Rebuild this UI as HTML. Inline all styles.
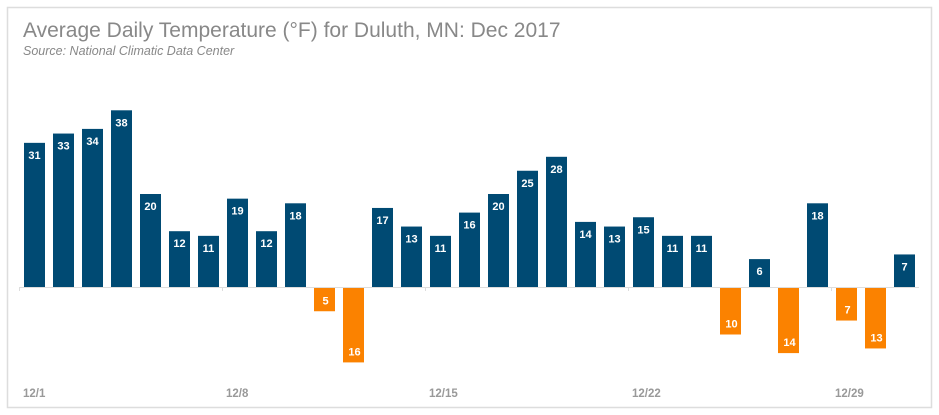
<!DOCTYPE html>
<html><head><meta charset="utf-8"><style>
body{margin:0;background:#fff;}
svg{display:block;font-family:"Liberation Sans",sans-serif;}
</style></head><body>
<svg width="939" height="415" xmlns="http://www.w3.org/2000/svg">
<rect x="7.5" y="7.5" width="924" height="400" fill="#fff" stroke="#ddd" stroke-width="1.5"/>
<text x="23" y="37" font-size="21" fill="#888">Average Daily Temperature (°F) for Duluth, MN: Dec 2017</text>
<text x="23" y="55" font-size="12.5" font-style="italic" fill="#888">Source: National Climatic Data Center</text>
<g fill="#004a73">
<rect x="24" y="142.85" width="21" height="144.15"/>
<rect x="53" y="133.55" width="21" height="153.45"/>
<rect x="82" y="128.9" width="21" height="158.1"/>
<rect x="111" y="110.3" width="21" height="176.7"/>
<rect x="140" y="194" width="21" height="93"/>
<rect x="169" y="231.2" width="21" height="55.8"/>
<rect x="198" y="235.85" width="21" height="51.15"/>
<rect x="227" y="198.65" width="21" height="88.35"/>
<rect x="256" y="231.2" width="21" height="55.8"/>
<rect x="285" y="203.3" width="21" height="83.7"/>
<rect x="372" y="207.95" width="21" height="79.05"/>
<rect x="401" y="226.55" width="21" height="60.45"/>
<rect x="430" y="235.85" width="21" height="51.15"/>
<rect x="459" y="212.6" width="21" height="74.4"/>
<rect x="488" y="194" width="21" height="93"/>
<rect x="517" y="170.75" width="21" height="116.25"/>
<rect x="546" y="156.8" width="21" height="130.2"/>
<rect x="575" y="221.9" width="21" height="65.1"/>
<rect x="604" y="226.55" width="21" height="60.45"/>
<rect x="633" y="217.25" width="21" height="69.75"/>
<rect x="662" y="235.85" width="21" height="51.15"/>
<rect x="691" y="235.85" width="21" height="51.15"/>
<rect x="749" y="259.1" width="21" height="27.9"/>
<rect x="807" y="203.3" width="21" height="83.7"/>
<rect x="894" y="254.45" width="21" height="32.55"/>
</g>
<g fill="#fb8200">
<rect x="314" y="288" width="21" height="23.25"/>
<rect x="343" y="288" width="21" height="74.4"/>
<rect x="720" y="288" width="21" height="46.5"/>
<rect x="778" y="288" width="21" height="65.1"/>
<rect x="836" y="288" width="21" height="32.55"/>
<rect x="865" y="288" width="21" height="60.45"/>
</g>
<g font-size="11" font-weight="bold" fill="#fff" text-anchor="middle">
<text x="34.5" y="158.85">31</text>
<text x="63.5" y="149.55">33</text>
<text x="92.5" y="144.9">34</text>
<text x="121.5" y="126.3">38</text>
<text x="150.5" y="210">20</text>
<text x="179.5" y="247.2">12</text>
<text x="208.5" y="251.85">11</text>
<text x="237.5" y="214.65">19</text>
<text x="266.5" y="247.2">12</text>
<text x="295.5" y="219.3">18</text>
<text x="325.5" y="304.25">5</text>
<text x="354.5" y="355.4">16</text>
<text x="382.5" y="223.95">17</text>
<text x="411.5" y="242.55">13</text>
<text x="440.5" y="251.85">11</text>
<text x="469.5" y="228.6">16</text>
<text x="498.5" y="210">20</text>
<text x="527.5" y="186.75">25</text>
<text x="556.5" y="172.8">28</text>
<text x="585.5" y="237.9">14</text>
<text x="614.5" y="242.55">13</text>
<text x="643.5" y="233.25">15</text>
<text x="672.5" y="251.85">11</text>
<text x="701.5" y="251.85">11</text>
<text x="731.5" y="327.5">10</text>
<text x="759.5" y="275.1">6</text>
<text x="789.5" y="346.1">14</text>
<text x="817.5" y="219.3">18</text>
<text x="847.5" y="313.55">7</text>
<text x="876.5" y="341.45">13</text>
<text x="904.5" y="270.45">7</text>
</g>
<line x1="19.5" y1="287.5" x2="919" y2="287.5" stroke="#ddd" stroke-width="1"/>
<g stroke="#ddd"><line x1="19.5" y1="287" x2="19.5" y2="291"/><line x1="222.5" y1="287" x2="222.5" y2="291"/><line x1="425.5" y1="287" x2="425.5" y2="291"/><line x1="628.5" y1="287" x2="628.5" y2="291"/><line x1="831.5" y1="287" x2="831.5" y2="291"/></g>
<g font-size="11.5" font-weight="bold" fill="#999">
<text x="23" y="397">12/1</text><text x="226" y="397">12/8</text><text x="429" y="397">12/15</text><text x="632" y="397">12/22</text><text x="835" y="397">12/29</text>
</g>
</svg>
</body></html>
